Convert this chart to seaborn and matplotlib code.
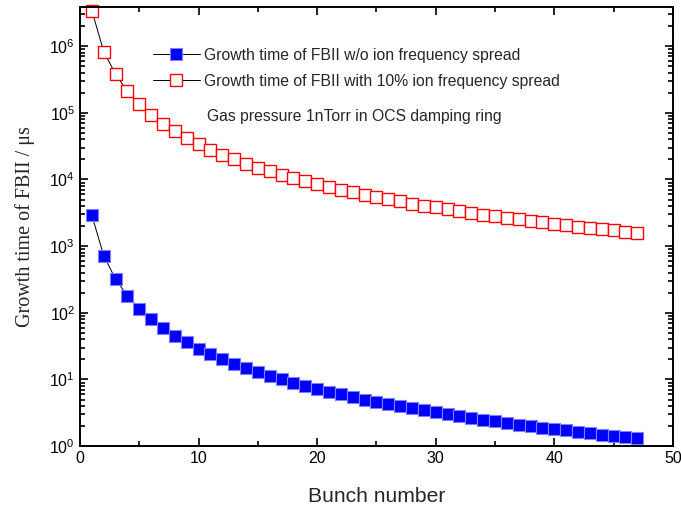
import numpy as np
import pandas as pd
import matplotlib
matplotlib.use("Agg")
import matplotlib.pyplot as plt
import seaborn as sns
from matplotlib.ticker import LogLocator, MultipleLocator, NullFormatter, LogFormatterSciNotation
from matplotlib.lines import Line2D

bunch = list(range(1, 48))
no_spread = [2900, 720, 320, 180, 115, 80, 59, 45, 36, 29, 24, 20, 17, 14.8, 12.9,
             11.3, 10.0, 8.9, 8.0, 7.2, 6.5, 6.0, 5.4, 5.0, 4.6, 4.3, 4.0, 3.7, 3.45,
             3.2, 3.0, 2.8, 2.65, 2.5, 2.35, 2.22, 2.1, 2.0, 1.9, 1.8, 1.72, 1.64,
             1.56, 1.49, 1.42, 1.36, 1.31]
with_spread = [3.4e6, 8.3e5, 3.8e5, 2.1e5, 1.35e5, 9.4e4, 6.9e4, 5.3e4, 4.2e4, 3.4e4,
               2.8e4, 2.35e4, 2.0e4, 1.73e4, 1.5e4, 1.32e4, 1.17e4, 1.05e4, 9.4e3,
               8.5e3, 7.7e3, 7.0e3, 6.4e3, 5.9e3, 5.45e3, 5.05e3, 4.7e3, 4.35e3,
               4.05e3, 3.8e3, 3.55e3, 3.35e3, 3.15e3, 2.97e3, 2.8e3, 2.65e3, 2.52e3,
               2.39e3, 2.27e3, 2.16e3, 2.06e3, 1.97e3, 1.88e3, 1.8e3, 1.72e3, 1.65e3,
               1.58e3]
y_ticks = [1e0, 1e1, 1e2, 1e3, 1e4, 1e5, 1e6]
x_ticks = [0, 10, 20, 30, 40, 50]
label_no = "Growth time of FBII w/o ion frequency spread"
label_with = "Growth time of FBII with 10% ion frequency spread"
note = "Gas pressure 1nTorr in OCS damping ring"

df = pd.DataFrame({"bunch": bunch, "no": no_spread, "with": with_spread})

sns.set_theme(style="ticks")
plt.rcParams["font.family"] = ["Liberation Sans", "DejaVu Sans"]
plt.rcParams["mathtext.fontset"] = "custom"
plt.rcParams["mathtext.rm"] = "Liberation Sans"
plt.rcParams["mathtext.default"] = "regular"

fig = plt.figure(figsize=(6.81, 5.07), dpi=100)
ax = fig.add_axes([0.1175, 0.12, 0.8705, 0.866])

MS = 8
sns.lineplot(data=df, x="bunch", y="no", ax=ax, color="black", linewidth=0.7,
             marker="s", markersize=MS, markerfacecolor="#0000ff",
             markeredgecolor="#7f7fff", markeredgewidth=0.8, estimator=None, sort=False)
sns.lineplot(data=df, x="bunch", y="with", ax=ax, color="black", linewidth=0.7,
             marker="s", markersize=MS, markerfacecolor="white",
             markeredgecolor="#ff0000", markeredgewidth=1.0, estimator=None, sort=False,
             clip_on=False)
if ax.get_legend() is not None:
    ax.get_legend().remove()

ax.set_yscale("log")
ax.set_xlim(0, 50)
ax.set_ylim(1, 3.85e6)
ax.set_xticks(x_ticks)
ax.xaxis.set_minor_locator(MultipleLocator(5))
ax.set_yticks(y_ticks)
ax.yaxis.set_major_formatter(LogFormatterSciNotation())
ax.yaxis.set_minor_locator(LogLocator(base=10, subs=np.arange(2, 10), numticks=20))
ax.yaxis.set_minor_formatter(NullFormatter())

ax.tick_params(which="both", direction="in", top=True, right=True, width=1.2,
               colors="black", labelsize=11.5)
ax.tick_params(which="major", length=6)
ax.tick_params(which="minor", length=3.5)
for s in ax.spines.values():
    s.set_linewidth(1.4)
    s.set_color("black")

ax.set_xlabel("Bunch number", fontsize=15.2, labelpad=15)
ax.set_ylabel("Growth time of FBII / \u03bcs", fontsize=14.5,
              family=["Liberation Serif", "DejaVu Serif"], labelpad=10)

handles = [
    Line2D([], [], color="black", linewidth=0.7, marker="s", markersize=MS,
           markerfacecolor="#0000ff", markeredgecolor="#7f7fff", markeredgewidth=0.8),
    Line2D([], [], color="black", linewidth=0.7, marker="s", markersize=MS,
           markerfacecolor="white", markeredgecolor="#ff0000", markeredgewidth=1.0),
]
ax.legend(handles, [label_no, label_with], loc="upper left",
          bbox_to_anchor=(0.112, 0.922), frameon=False, fontsize=11.3,
          handlelength=3.0, handletextpad=0.3, labelspacing=0.7,
          borderaxespad=0.0)
ax.text(0.215, 0.75, note, transform=ax.transAxes, fontsize=11.3,
        ha="left", va="center")

fig.savefig("out.png", dpi=100)
